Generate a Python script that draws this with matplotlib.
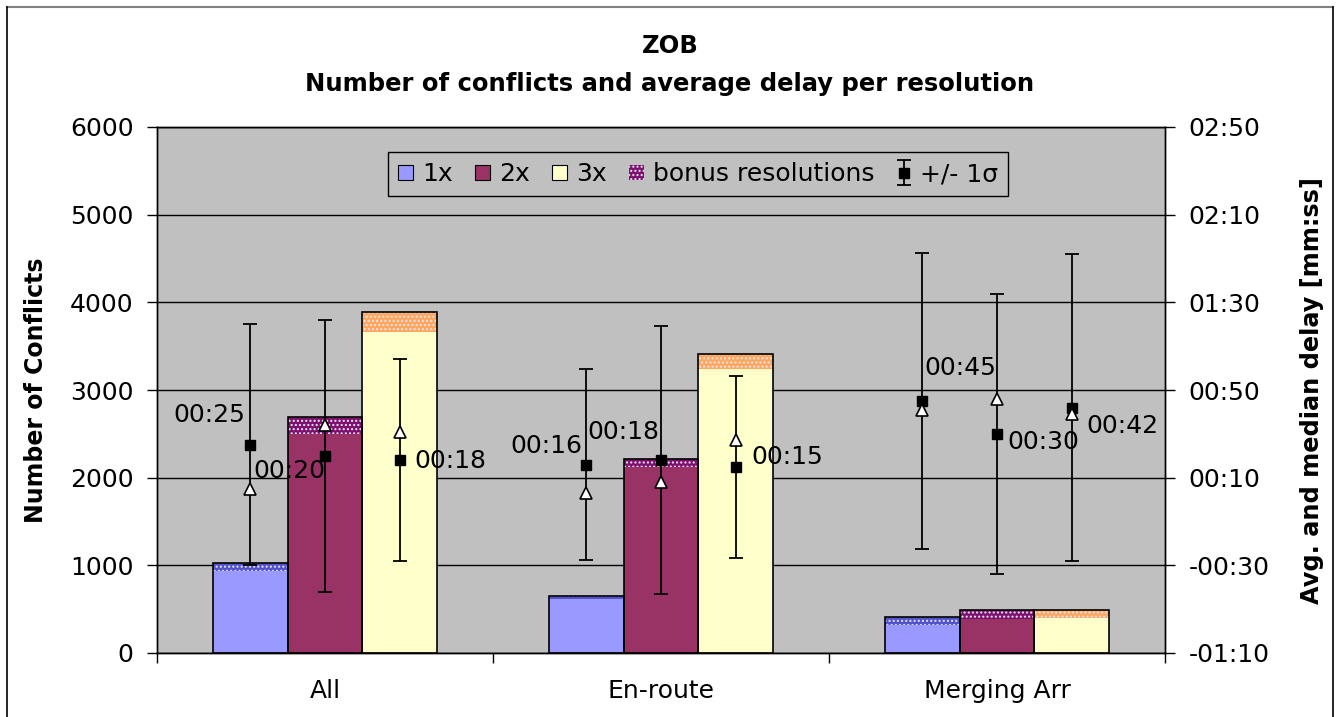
import matplotlib
matplotlib.use("Agg")
import matplotlib.pyplot as plt
from matplotlib.lines import Line2D
from matplotlib.patches import Patch
from matplotlib.ticker import FixedLocator, FuncFormatter
import numpy as np

# ---------------- data ----------------
categories = ["All", "En-route", "Merging Arr"]
resolutions = ["1x", "2x", "3x"]

base_1x = [940, 620, 320]
base_2x = [2500, 2125, 390]
base_3x = [3665, 3240, 400]
bonus_1x = [90, 30, 85]
bonus_2x = [190, 90, 100]
bonus_3x = [220, 170, 90]

# delay in seconds
mean_1x = [25, 16, 45]
mean_2x = [20, 18, 30]
mean_3x = [18, 15, 42]
sigma_1x = [55, 43.5, 67.5]
sigma_2x = [62, 61, 64]
sigma_3x = [46, 41.5, 70]
median_1x = [5, 3, 41]
median_2x = [34, 8, 46]
median_3x = [31, 27, 39]

left_ticks = [0, 1000, 2000, 3000, 4000, 5000, 6000]
right_ticks = [-70, -30, 10, 50, 90, 130, 170]

# ---------------- style ----------------
plt.rcParams['font.family'] = ['DejaVu Sans']
base_colors = ['#9999FF', '#993366', '#FFFFCC']
bonus_colors = ['#5252CC', '#7D106E', '#FFA75E']
plot_bg = '#C0C0C0'
# label offsets (pixels) and alignment for the mean labels
label_style = [
    [(-5, 30, 'right'), (-4, 19, 'right'), (2, 33, 'left')],   # 1x
    [(0, -15, 'right'), (-2, 28, 'right'), (10, -8, 'left')],  # 2x
    [(14, -1, 'left'), (15, 10, 'left'), (14, -18, 'left')],   # 3x
]

W, H = 1336, 717
fig = plt.figure(figsize=(W / 100, H / 100), dpi=100)
fig.patch.set_facecolor('white')
ax = fig.add_axes([157 / W, (H - 653) / H, 1008 / W, 526 / H])
ax.set_facecolor(plot_bg)

x = np.arange(len(categories))
bw = 0.223
offsets = [-bw, 0, bw]
bases = [base_1x, base_2x, base_3x]
bonuses = [bonus_1x, bonus_2x, bonus_3x]
means = [mean_1x, mean_2x, mean_3x]
sigmas = [sigma_1x, sigma_2x, sigma_3x]
medians = [median_1x, median_2x, median_3x]

plt.rcParams['hatch.linewidth'] = 1.0
for i in range(3):
    xi = x + offsets[i]
    b = np.array(bases[i])
    bo = np.array(bonuses[i])
    ax.bar(xi, b, bw, color=base_colors[i], linewidth=0, zorder=2, label=resolutions[i])
    ax.bar(xi, bo, bw, bottom=b, color=bonus_colors[i], edgecolor='#E4E4F0',
           hatch='....', linewidth=0, zorder=2)
    ax.bar(xi, b + bo, bw, facecolor='none', edgecolor='black', linewidth=1.2, zorder=3)

ax.set_xlim(-0.5, 2.5)
ax.set_ylim(0, 6000)
ax.yaxis.set_major_locator(FixedLocator(left_ticks))
ax.grid(axis='y', color='black', linewidth=1.0, zorder=1)
ax.set_axisbelow(True)
ax.set_xticks(x)
ax.set_xticklabels(categories, fontsize=18)
ax.set_xticks([-0.5, 0.5, 1.5, 2.5], minor=True)
ax.tick_params(axis='x', which='major', length=0, pad=19)
ax.tick_params(axis='x', which='minor', length=7, width=1, direction='out')
ax.tick_params(axis='y', which='major', length=7, width=1, direction='out', pad=10, labelsize=18)
ax.set_ylabel("Number of Conflicts", fontsize=17, fontweight='bold', labelpad=16)
for s in ax.spines.values():
    s.set_color('black')
    s.set_linewidth(1.0)

ax2 = ax.twinx()
ax2.set_ylim(-70, 170)
ax2.yaxis.set_major_locator(FixedLocator(right_ticks))


def mmss(v, pos=None):
    sgn = '-' if v < 0 else ''
    v = abs(int(round(v)))
    return f"{sgn}{v // 60:02d}:{v % 60:02d}"


ax2.yaxis.set_major_formatter(FuncFormatter(mmss))
ax2.tick_params(axis='y', length=7, width=1, direction='out', pad=10, labelsize=18)
ax2.set_ylabel("Avg. and median delay [mm:ss]", fontsize=17.3, fontweight='bold', labelpad=22)
for s in ax2.spines.values():
    s.set_color('black')
    s.set_linewidth(1.0)

eb = None
for i in range(3):
    xi = x + offsets[i]
    c = ax2.errorbar(xi, means[i], yerr=sigmas[i], fmt='s', color='black', ms=7,
                     ecolor='black', elinewidth=1.3, capsize=5, capthick=1.3, zorder=4)
    if eb is None:
        eb = c
    ax2.plot(xi, medians[i], linestyle='none', marker='^', ms=8, mfc='white',
             mec='black', mew=1.2, zorder=5)
    for j in range(3):
        dx, dy, ha = label_style[i][j]
        ax2.annotate(mmss(means[i][j]), (xi[j], means[i][j]), xytext=(dx, dy),
                     textcoords='offset pixels', ha=ha, va='center', fontsize=18,
                     zorder=6)

handles = [Patch(facecolor=base_colors[k], edgecolor='black', linewidth=0.8) for k in range(3)]
handles.append(Patch(facecolor=bonus_colors[1], edgecolor='#E4E4F0', hatch='....', linewidth=0))
handles.append(eb)
labels = resolutions + ["bonus resolutions", "+/- 1σ"]
leg = ax2.legend(handles, labels, loc='center', bbox_to_anchor=(0.537, 0.91), ncol=5,
                 fontsize=18, frameon=True, fancybox=False, handlelength=0.6,
                 handleheight=0.6, handletextpad=0.35, columnspacing=0.9,
                 borderpad=0.4, borderaxespad=0)
leg.get_frame().set_facecolor(plot_bg)
leg.get_frame().set_edgecolor('black')
leg.get_frame().set_linewidth(1.0)
leg.get_frame().set_alpha(1)
leg.set_zorder(10)

fig.text(670 / W, 1 - 46 / H, "ZOB", ha='center', va='center', fontsize=17.5, fontweight='bold')
fig.text(670 / W, 1 - 84 / H, "Number of conflicts and average delay per resolution",
         ha='center', va='center', fontsize=17.5, fontweight='bold')

# outer chart frame
fig.add_artist(Line2D([7 / W, 1333 / W], [1 - 7 / H, 1 - 7 / H], transform=fig.transFigure,
                      color='#808080', linewidth=1.5))
fig.add_artist(Line2D([7 / W, 7 / W], [0, 1 - 7 / H], transform=fig.transFigure,
                      color='black', linewidth=1.2))
fig.add_artist(Line2D([1333 / W, 1333 / W], [0, 1 - 7 / H], transform=fig.transFigure,
                      color='black', linewidth=1.2))

fig.savefig("out.png", dpi=100, facecolor='white')
